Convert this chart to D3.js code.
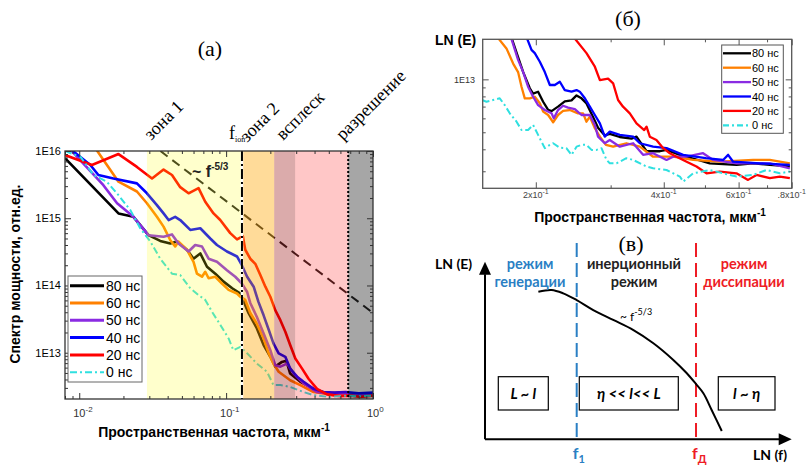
<!DOCTYPE html>
<html>
<head>
<meta charset="utf-8">
<script src="https://cdn.jsdelivr.net/npm/d3@7"></script>
<style>
  body { margin: 0; background: #fff; }
  text { font-family: "Liberation Sans", Arial, sans-serif; }
</style>
</head>
<body>
<div id="chart"></div>
<script>
// ---- data ----
const times = ["80 нс", "60 нс", "50 нс", "40 нс", "20 нс", "0 нс"];
const colors = ["#000000", "#ff8000", "#8a2be2", "#0000ff", "#ff0000", "#2fe0e0"];

// panel (a): [f, E]
const specA80 = [[0.008,7.8e15],[0.0185,1.18e15],[0.0234,1.05e15],[0.0296,5.6e14],[0.0356,4.6e14],[0.0417,4.2e14],[0.0463,4.5e14],[0.0541,3.4e14],[0.060,2.5e14],[0.0667,3.0e14],[0.0741,1.9e14],[0.0844,1.5e14],[0.0961,1.14e14],[0.110,9.1e13],[0.125,7.6e13],[0.142,3.9e13],[0.162,2.3e13],[0.180,1.3e13],[0.200,8.7e12],[0.216,6.2e12],[0.240,7.3e12],[0.257,7.6e12],[0.273,4.9e12],[0.320,3.7e12],[0.394,2.9e12],[0.45,2.6e12],[0.52,2.5e12],[0.6,2.55e12],[0.7,2.4e12],[0.82,2.45e12],[1.0,2.4e12]];
const specA60 = [[0.0128,1.12e16],[0.0185,3.5e15],[0.0247,2.5e15],[0.0289,1.67e15],[0.0338,1.05e15],[0.0375,7.5e14],[0.0417,4.7e14],[0.045,3.8e14],[0.0474,4.5e14],[0.0541,3.4e14],[0.060,2.25e14],[0.0633,1.5e14],[0.0685,1.35e14],[0.0721,1.6e14],[0.076,1.28e14],[0.0844,1.35e14],[0.0937,1.07e14],[0.104,8.6e13],[0.1186,7.6e13],[0.125,6.8e13],[0.135,6.1e13],[0.146,3.9e13],[0.162,2.7e13],[0.180,1.63e13],[0.195,9.8e12],[0.210,6.9e12],[0.228,5.2e12],[0.273,3.9e12],[0.320,3.3e12],[0.394,2.6e12],[0.539,2.35e12],[0.65,2.45e12],[0.8,2.5e12],[1.0,2.4e12]];
const specA50 = [[0.0089,1.0e16],[0.0146,3.1e15],[0.0181,1.67e15],[0.0234,1.05e15],[0.026,7.9e14],[0.0296,5.6e14],[0.0375,5.3e14],[0.0428,5.75e14],[0.0474,4.2e14],[0.0555,3.2e14],[0.0616,4.0e14],[0.0685,3.8e14],[0.076,2.5e14],[0.0866,2.25e14],[0.1013,1.69e14],[0.1154,1.35e14],[0.128,1.07e14],[0.139,8.0e13],[0.146,5.5e13],[0.162,3.4e13],[0.180,1.94e13],[0.200,1.09e13],[0.216,6.5e12],[0.234,6.2e12],[0.260,6.9e12],[0.288,4.9e12],[0.337,3.5e12],[0.416,2.6e12],[0.5,2.45e12],[0.65,2.5e12],[0.8,2.35e12],[1.0,2.4e12]];
const specA40 = [[0.0088,1.05e16],[0.0119,6.2e15],[0.0135,4.4e15],[0.0171,3.9e15],[0.0247,3.3e15],[0.0289,2.35e15],[0.0338,1.57e15],[0.0375,1.18e15],[0.0406,9.4e14],[0.045,1.05e15],[0.0487,9.4e14],[0.057,6.7e14],[0.0667,7.1e14],[0.078,5.0e14],[0.0866,4.0e14],[0.1013,3.2e14],[0.1186,2.7e14],[0.128,2.0e14],[0.139,1.35e14],[0.154,9.6e13],[0.166,5.7e13],[0.180,3.6e13],[0.195,2.2e13],[0.210,1.38e13],[0.228,9.8e12],[0.253,8.7e12],[0.273,5.8e12],[0.304,4.4e12],[0.337,3.7e12],[0.394,2.9e12],[0.461,2.6e12],[0.55,2.55e12],[0.65,2.6e12],[0.8,2.5e12],[1.0,2.55e12]];
const specA20 = [[0.008,8.7e15],[0.0122,6.2e15],[0.0185,9.0e15],[0.0247,5.8e15],[0.0313,3.9e15],[0.0375,5.3e15],[0.0428,4.4e15],[0.0487,2.9e15],[0.0555,2.35e15],[0.0649,2.8e15],[0.0721,1.76e15],[0.0821,1.18e15],[0.0912,9.4e14],[0.1067,6.0e14],[0.1186,4.85e14],[0.130,5.4e14],[0.135,3.4e14],[0.146,2.5e14],[0.158,2.1e14],[0.171,1.43e14],[0.185,9.6e13],[0.200,6.8e13],[0.216,4.3e13],[0.234,3.05e13],[0.253,2.05e13],[0.273,1.3e13],[0.296,8.2e12],[0.329,5.8e12],[0.364,4.1e12],[0.416,2.9e12],[0.486,2.4e12],[0.599,2.26e12],[0.7,2.3e12],[0.82,2.2e12],[1.0,2.3e12]];
const specA0 = [[0.008,1.0e16],[0.0102,8.2e15],[0.0125,4.4e15],[0.0154,3.5e15],[0.0185,2.2e15],[0.0223,1.32e15],[0.026,7.1e14],[0.0305,4.5e14],[0.0356,2.5e14],[0.0428,1.5e14],[0.0487,1.43e14],[0.057,9.1e13],[0.0649,7.2e13],[0.0721,6.1e13],[0.080,4.1e13],[0.0912,2.6e13],[0.104,1.63e13],[0.112,1.09e13],[0.125,1.22e13],[0.139,9.8e12],[0.162,6.9e12],[0.190,5.2e12],[0.210,3.3e12],[0.234,3.3e12],[0.273,3.1e12],[0.337,2.6e12],[0.394,2.34e12],[0.5,2.2e12],[0.65,2.3e12],[0.8,2.25e12],[1.0,2.3e12]];

// reference slope ~f^-5/3 (end points)
const slopeRef = [[0.0357, 1e16], [1.0, 3.9e13]];
// zone boundaries (f)
const zoneEdges = [0.0289, 0.1282, 0.2125, 0.295, 0.678, 1.0];
const zoneNames = ["зона 1", "зона 2", "всплеск", "разрешение"];

const aYTicks = [1e13, 1e14, 1e15, 1e16];
const aYLabels = ["1E13", "1E14", "1E15", "1E16"];
const aXTicks = [0.01, 0.1, 1];
const aXExp = ["-2", "-1", "0"];

// panel (b): [f, E]
const specB80 = [[0.175,1.75e13],[0.1817,1.34e13],[0.1868,1.10e13],[0.1936,8.9e12],[0.1971,8.3e12],[0.2025,8.5e12],[0.2081,7.46e12],[0.2138,6.7e12],[0.2178,6.6e12],[0.2256,7.0e12],[0.234,7.5e12],[0.2427,7.6e12],[0.2494,8.1e12],[0.2562,7.8e12],[0.2632,7.3e12],[0.2727,6.1e12],[0.2802,5.3e12],[0.2906,4.8e12],[0.2986,4.9e12],[0.3152,4.7e12],[0.3359,4.6e12],[0.3451,4.72e12],[0.3644,3.9e12],[0.3917,3.9e12],[0.4061,3.97e12],[0.4365,3.72e12],[0.4776,3.5e12],[0.5133,3.33e12],[0.5932,3.26e12],[0.6492,3.33e12],[0.7106,3.26e12],[0.792,3.2e12]];
const specB60 = [[0.163,1.72e13],[0.1706,1.50e13],[0.1769,1.23e13],[0.1817,1.10e13],[0.1851,9.08e12],[0.1884,7.8e12],[0.1936,7.8e12],[0.1989,7.96e12],[0.2044,7.31e12],[0.2081,6.55e12],[0.2138,6.27e12],[0.2197,5.7e12],[0.2256,6.27e12],[0.2319,6.61e12],[0.2404,6.69e12],[0.2515,6.41e12],[0.2584,6.41e12],[0.2632,5.74e12],[0.268,6.13e12],[0.2754,5.27e12],[0.283,4.72e12],[0.2924,4.24e12],[0.3041,4.14e12],[0.3267,4.33e12],[0.3514,4.14e12],[0.3776,3.63e12],[0.4208,3.63e12],[0.4689,3.48e12],[0.5419,3.4e12],[0.6492,3.48e12],[0.7106,3.48e12],[0.792,3.33e12]];
const specB50 = [[0.175,1.72e13],[0.1817,1.29e13],[0.1868,1.10e13],[0.1918,9.08e12],[0.1971,7.96e12],[0.2025,7.14e12],[0.21,6.69e12],[0.2178,6.41e12],[0.2205,6.0e12],[0.2256,6.69e12],[0.2319,7.08e12],[0.2382,6.9e12],[0.2471,6.78e12],[0.2562,6.27e12],[0.268,6.27e12],[0.2754,5.5e12],[0.2802,4.72e12],[0.2906,4.33e12],[0.2986,4.52e12],[0.3152,4.14e12],[0.3389,4.33e12],[0.3576,3.72e12],[0.3776,3.8e12],[0.4061,3.48e12],[0.4208,3.63e12],[0.4527,3.63e12],[0.495,3.8e12],[0.5227,3.48e12],[0.5932,3.33e12],[0.7106,3.33e12],[0.792,3.12e12]];
const specB40 = [[0.19,1.75e13],[0.1954,1.47e13],[0.1989,1.41e13],[0.2044,1.26e13],[0.21,1.10e13],[0.2158,9.29e12],[0.2217,9.29e12],[0.2278,9.69e12],[0.234,8.69e12],[0.2427,8.51e12],[0.2494,8.69e12],[0.2538,8.51e12],[0.2609,7.8e12],[0.268,6.99e12],[0.2754,6.27e12],[0.283,5.62e12],[0.2906,4.72e12],[0.2986,5.04e12],[0.3152,4.83e12],[0.3389,4.72e12],[0.3514,4.33e12],[0.3776,4.14e12],[0.4061,4.06e12],[0.4444,3.72e12],[0.5024,3.56e12],[0.5517,3.48e12],[0.5669,3.72e12],[0.5825,3.4e12],[0.6731,3.33e12],[0.792,3.26e12]];
const specB20 = [[0.245,1.75e13],[0.2632,1.41e13],[0.2754,1.18e13],[0.283,9.91e12],[0.2959,1.01e13],[0.3041,9.49e12],[0.3123,7.63e12],[0.3208,6.99e12],[0.3328,6.41e12],[0.3451,5.62e12],[0.3598,5.15e12],[0.3644,5.38e12],[0.3709,4.72e12],[0.3845,4.52e12],[0.3988,4.06e12],[0.4134,3.8e12],[0.4287,3.63e12],[0.4527,3.4e12],[0.4776,3.19e12],[0.5043,2.92e12],[0.5419,2.99e12],[0.5932,2.92e12],[0.6315,2.68e12],[0.6612,2.86e12],[0.7106,2.74e12],[0.7501,2.8e12],[0.792,2.74e12]];
const specB0 = [[0.150,7.6e12],[0.1531,7.46e12],[0.1587,7.63e12],[0.1645,7.8e12],[0.169,7.14e12],[0.1737,6.41e12],[0.1802,5.74e12],[0.1851,5.15e12],[0.1918,5.15e12],[0.1971,5.5e12],[0.2025,4.83e12],[0.21,4.06e12],[0.2158,4.24e12],[0.2197,4.33e12],[0.2278,4.08e12],[0.236,4.06e12],[0.2427,3.72e12],[0.2494,4.14e12],[0.2562,4.24e12],[0.2632,4.24e12],[0.2705,3.97e12],[0.2779,3.97e12],[0.2855,4.06e12],[0.2934,3.48e12],[0.2986,3.33e12],[0.3096,3.33e12],[0.3267,3.56e12],[0.3389,3.48e12],[0.3644,3.19e12],[0.3776,3.12e12],[0.4061,3.05e12],[0.4365,2.8e12],[0.4444,2.62e12],[0.4689,2.92e12],[0.5133,3.05e12],[0.5932,2.8e12],[0.6492,2.86e12],[0.6979,3.05e12],[0.7501,2.92e12],[0.792,2.99e12]];

const bYTicks = [1e13];
const bYLabels = ["1E13"];
const bXTicks = [0.2, 0.4, 0.6, 0.8];
const bXMant = ["2x10", "4x10", "6x10", ".8x10"];

// panel (в): schematic, arbitrary units 0..100
const schemeCurve = [[17.4,83.1],[21.7,84.1],[25.5,82.2],[29.9,78.4],[35.3,72.8],[41.8,67.2],[48.4,61.5],[54.9,54.1],[61.4,44.7],[65.8,37.2],[68.8,31.1],[71.2,25.9],[73.9,16.5],[77.2,4.7]];
const f1Pos = 29.9, fdPos = 68.8;

const specA = [specA80, specA60, specA50, specA40, specA20, specA0];
const specB = [specB80, specB60, specB50, specB40, specB20, specB0];

// ---- helpers ----
function logTicks(lo, hi) {
    const t = [];
    for (let e = Math.floor(Math.log10(lo)); e <= Math.ceil(Math.log10(hi)); e++) {
        for (let m = 1; m < 10; m++) {
            const v = m * Math.pow(10, e);
            if (v >= lo * 0.999 && v <= hi * 1.001) t.push(v);
        }
    }
    return t;
}
const isMajor = v => Math.abs(Math.log10(v) - Math.round(Math.log10(v))) < 1e-6;

function frame(g, x, y, majorY, majorX, minorX, stroke) {
    const [x0, x1] = x.range(), [y0, y1] = y.range();
    const w = x1 - x0, h = y0 - y1;
    const yMin = logTicks(...y.domain()).filter(v => !majorY.includes(v));
    const sides = [
        [d3.axisLeft(y), `translate(${x0},0)`, majorY, yMin],
        [d3.axisRight(y), `translate(${x1},0)`, majorY, yMin],
        [d3.axisBottom(x), `translate(0,${y0})`, majorX, minorX],
        [d3.axisTop(x), `translate(0,${y1})`, majorX, minorX]
    ];
    sides.forEach(([ax, tr, maj, min]) => {
        [[maj, 6], [min, 3]].forEach(([vals, len]) => {
            g.append("g").attr("transform", tr)
                .call(ax.tickValues(vals).tickSize(-len).tickFormat("").tickSizeOuter(0))
                .call(s => s.select(".domain").remove())
                .call(s => s.selectAll("line").attr("stroke", stroke).attr("stroke-width", 1));
        });
    });
    g.append("rect").attr("x", x0).attr("y", y1).attr("width", w).attr("height", h)
        .attr("fill", "none").attr("stroke", stroke).attr("stroke-width", 1.3);
}

const svg = d3.select("#chart").append("svg")
    .attr("width", 810).attr("height", 468)
    .style("background", "#fff");

const defs = svg.append("defs");

// ================= panel (а) =================
const xA = d3.scaleLog().domain([0.008, 1.0]).range([65, 373]);
const yA = d3.scaleLog().domain([2.05e12, 1e16]).range([399, 151]);

defs.append("clipPath").attr("id", "clipA").append("rect")
    .attr("x", 65).attr("y", 151).attr("width", 308).attr("height", 248);

const gA = svg.append("g");
const plotA = gA.append("g").attr("clip-path", "url(#clipA)");

const lineA = d3.line().x(d => xA(d[0])).y(d => yA(d[1]));

// dashed slope line (under the overlays)
plotA.append("path").datum(slopeRef).attr("d", lineA)
    .attr("fill", "none").attr("stroke", "#222").attr("stroke-width", 2)
    .attr("stroke-dasharray", "9,6");

specA.forEach((s, i) => {
    plotA.append("path").datum(s).attr("d", lineA)
        .attr("fill", "none").attr("stroke", colors[i])
        .attr("stroke-width", i === 5 ? 2 : 2.6)
        .attr("stroke-linejoin", "round")
        .attr("stroke-dasharray", i === 5 ? "7,3,2,3" : null);
});

// translucent zone overlays
const overlays = [
    [zoneEdges[0], zoneEdges[1], "#ffff00", 0.2],
    [zoneEdges[1], zoneEdges[2], "#ffa500", 0.4],
    [zoneEdges[2], zoneEdges[4], "#ff0000", 0.22],
    [zoneEdges[2], zoneEdges[3], "#000000", 0.14],
    [zoneEdges[4], zoneEdges[5], "#000000", 0.35]
];
overlays.forEach(([a, b, c, o]) => {
    plotA.append("rect").attr("x", xA(a)).attr("y", 151)
        .attr("width", xA(b) - xA(a)).attr("height", 248)
        .attr("fill", c).attr("fill-opacity", o);
});

// f_ion dash-dot and resolution dotted line
plotA.append("line").attr("x1", xA(zoneEdges[1])).attr("x2", xA(zoneEdges[1]))
    .attr("y1", 151).attr("y2", 399).attr("stroke", "#fff").attr("stroke-width", 2.5);
plotA.append("line").attr("x1", xA(zoneEdges[1])).attr("x2", xA(zoneEdges[1]))
    .attr("y1", 151).attr("y2", 399).attr("stroke", "#000").attr("stroke-width", 2)
    .attr("stroke-dasharray", "10,3,2,3");
plotA.append("line").attr("x1", xA(zoneEdges[4])).attr("x2", xA(zoneEdges[4]))
    .attr("y1", 151).attr("y2", 399).attr("stroke", "#000").attr("stroke-width", 2)
    .attr("stroke-dasharray", "2,2");

frame(gA, xA, yA, aYTicks, aXTicks,
    logTicks(0.008, 1).filter(v => !isMajor(v)), "#333");

// tick labels
gA.selectAll(".ya").data(aYTicks).join("text")
    .attr("x", 61).attr("y", d => yA(d) + 4)
    .attr("text-anchor", "end").style("font-size", "11px").text((d, i) => aYLabels[i]);
const xl = gA.selectAll(".xa").data(aXTicks).join("text")
    .attr("x", d => xA(d) - 6).attr("y", 417)
    .style("font-size", "11px").style("fill", "#333");
xl.append("tspan").text("10");
xl.append("tspan").attr("dy", -5).style("font-size", "8px").text((d, i) => aXExp[i]);

// "~ f^-5/3"
const slopeLbl = gA.append("text").attr("x", 192).attr("y", 177)
    .style("font-size", "16px").style("font-weight", "bold").style("fill", "#222");
slopeLbl.append("tspan").text("~ f");
slopeLbl.append("tspan").attr("dy", -7).style("font-size", "10px").text("-5/3");

// legend (а)
const legA = gA.append("g");
legA.append("rect").attr("x", 68).attr("y", 276).attr("width", 74).attr("height", 106)
    .attr("fill", "#fff").attr("stroke", "#666").attr("stroke-width", 1);
times.forEach((t, i) => {
    const yy = 285.7 + i * 17.3;
    legA.append("line").attr("x1", 70).attr("x2", 104).attr("y1", yy).attr("y2", yy)
        .attr("stroke", colors[i]).attr("stroke-width", i === 5 ? 2 : 3)
        .attr("stroke-dasharray", i === 5 ? "7,3,2,3" : null);
    legA.append("text").attr("x", 106).attr("y", yy + 5)
        .style("font-size", "14px").text(t);
});

// zone names, rotated
const serif = "'Liberation Serif', 'DejaVu Serif', serif";
const zoneLabelPos = [[151, 141], [247, 143], [283, 141], [343, 141]];
zoneNames.forEach((n, i) => {
    gA.append("text")
        .attr("transform", `translate(${zoneLabelPos[i][0]},${zoneLabelPos[i][1]}) rotate(-45)`)
        .style("font-family", serif).style("font-size", "18px").text(n);
});
const fion = gA.append("text").attr("x", 229).attr("y", 139)
    .style("font-family", serif).style("font-size", "18px");
fion.append("tspan").text("f");
fion.append("tspan").attr("dy", 3).style("font-size", "8px").text("ion");

gA.append("text").attr("x", 210).attr("y", 56).attr("text-anchor", "middle")
    .style("font-family", serif).style("font-size", "22px").text("(а)");

const xtA = gA.append("text").attr("x", 214).attr("y", 437).attr("text-anchor", "middle")
    .style("font-size", "14px").style("font-weight", "bold");
xtA.append("tspan").text("Пространственная частота, мкм");
xtA.append("tspan").attr("dy", -6).style("font-size", "10px").text("-1");

gA.append("text").attr("transform", "translate(20,274) rotate(-90)")
    .attr("text-anchor", "middle").style("font-size", "14px").style("font-weight", "bold")
    .text("Спектр мощности, отн.ед.");

// ================= panel (б) =================
const xB = d3.scaleLog().domain([0.15, 0.8]).range([482.7, 791.7]);
const yB = d3.scaleLog().domain([2.4e12, 1.69e13]).range([188.3, 39.3]);

defs.append("clipPath").attr("id", "clipB").append("rect")
    .attr("x", 482.7).attr("y", 39.3).attr("width", 309).attr("height", 149);

const gB = svg.append("g");
const plotB = gB.append("g").attr("clip-path", "url(#clipB)");
const lineB = d3.line().x(d => xB(d[0])).y(d => yB(d[1]));

specB.forEach((s, i) => {
    plotB.append("path").datum(s).attr("d", lineB)
        .attr("fill", "none").attr("stroke", colors[i])
        .attr("stroke-width", i === 5 ? 2 : 2.3)
        .attr("stroke-linejoin", "round")
        .attr("stroke-dasharray", i === 5 ? "7,3,2,3" : null);
});

frame(gB, xB, yB, bYTicks, bXTicks, [0.3, 0.5, 0.7], "#555");

gB.selectAll(".yb").data(bYTicks).join("text")
    .attr("x", 475).attr("y", d => yB(d) + 3.5).attr("text-anchor", "end")
    .style("font-size", "9px").style("fill", "#333").text((d, i) => bYLabels[i]);
const xlb = gB.selectAll(".xb").data(bXTicks).join("text")
    .attr("x", d => xB(d)).attr("y", 198).attr("text-anchor", "middle")
    .style("font-size", "9px").style("fill", "#444");
xlb.append("tspan").text((d, i) => bXMant[i]);
xlb.append("tspan").attr("dy", -4).style("font-size", "7px").text("-1");

// legend (б)
const legB = gB.append("g");
legB.append("rect").attr("x", 721.7).attr("y", 45).attr("width", 61.6).attr("height", 88.3)
    .attr("fill", "#fff").attr("stroke", "#555").attr("stroke-width", 1);
times.forEach((t, i) => {
    const yy = 53.3 + i * 14.4;
    legB.append("line").attr("x1", 723).attr("x2", 751).attr("y1", yy).attr("y2", yy)
        .attr("stroke", colors[i]).attr("stroke-width", 2.3)
        .attr("stroke-dasharray", i === 5 ? "6,3,2,3" : null);
    legB.append("text").attr("x", 752).attr("y", yy + 4)
        .style("font-size", "11px").text(t);
});

gB.append("text").attr("x", 435).attr("y", 45)
    .style("font-size", "14px").style("font-weight", "bold").text("LN (E)");
gB.append("text").attr("x", 628).attr("y", 26).attr("text-anchor", "middle")
    .style("font-family", serif).style("font-size", "22px").text("(б)");
const xtB = gB.append("text").attr("x", 650).attr("y", 222).attr("text-anchor", "middle")
    .style("font-size", "14px").style("font-weight", "bold");
xtB.append("tspan").text("Пространственная частота, мкм");
xtB.append("tspan").attr("dy", -6).style("font-size", "10px").text("-1");

// ================= panel (в) =================
const xC = d3.scaleLinear().domain([0, 100]).range([485, 791.7]);
const yC = d3.scaleLinear().domain([0, 100]).range([439.3, 261.7]);
const gC = svg.append("g");
const sans2 = "Lato, 'Open Sans', sans-serif";

gC.append("text").attr("x", 631).attr("y", 251).attr("text-anchor", "middle")
    .style("font-family", serif).style("font-size", "22px").text("(в)");

// axes with arrows
gC.append("line").attr("x1", xC(0)).attr("y1", yC(0)).attr("x2", xC(0)).attr("y2", yC(0) - 165)
    .attr("stroke", "#000").attr("stroke-width", 2);
gC.append("path")
    .attr("d", `M${xC(0)},${yC(100)} l-6,13 l12,0 Z`).attr("fill", "#000");
gC.append("line").attr("x1", xC(0)).attr("y1", yC(0)).attr("x2", xC(100) - 10).attr("y2", yC(0))
    .attr("stroke", "#000").attr("stroke-width", 2);
gC.append("path")
    .attr("d", `M${xC(100)},${yC(0)} l-13,-6 l0,12 Z`).attr("fill", "#000");

// regime dividers
[[f1Pos, "#2a7fc4"], [fdPos, "#ee1c25"]].forEach(([p, c]) => {
    gC.append("line").attr("x1", xC(p)).attr("x2", xC(p)).attr("y1", 243).attr("y2", yC(0))
        .attr("stroke", c).attr("stroke-width", 2).attr("stroke-dasharray", "14,6");
});

// spectrum curve
gC.append("path").datum(schemeCurve)
    .attr("d", d3.line().x(d => xC(d[0])).y(d => yC(d[1])).curve(d3.curveCatmullRom))
    .attr("fill", "none").attr("stroke", "#000").attr("stroke-width", 2);

const sl2 = gC.append("text").attr("x", 620).attr("y", 321)
    .style("font-family", sans2).style("font-size", "12px");
sl2.append("tspan").text("~ f");
sl2.append("tspan").attr("dy", -6).style("font-size", "9px").text("-5/3");

// regime titles
const regimes = [
    [530, "#2a7fc4", ["режим", "генерации"]],
    [634, "#222", ["инерционный", "режим"]],
    [744, "#ee1c25", ["режим", "диссипации"]]
];
regimes.forEach(([cx, c, lines]) => {
    lines.forEach((l, j) => {
        gC.append("text").attr("x", cx).attr("y", 269 + j * 18).attr("text-anchor", "middle")
            .style("font-family", sans2).style("font-weight", "bold").style("font-size", "14.5px")
            .style("fill", c).text(l);
    });
});

// scale boxes
const boxes = [
    [498.3, 50, "L ~ l"],
    [579.3, 99, "η << l<< L"],
    [718.3, 56.7, "l ~ η"]
];
boxes.forEach(([bx, bw, t]) => {
    gC.append("rect").attr("x", bx).attr("y", 376.7).attr("width", bw).attr("height", 33.3)
        .attr("fill", "#fff").attr("stroke", "#000").attr("stroke-width", 1.2);
    gC.append("text").attr("x", bx + bw / 2).attr("y", 398.5).attr("text-anchor", "middle")
        .style("font-family", sans2).style("font-style", "italic").style("font-weight", "bold")
        .style("font-size", "15px").text(t);
});

gC.append("text").attr("x", 435).attr("y", 269)
    .style("font-family", sans2).style("font-size", "14px").style("font-weight", "bold").text("LN (E)");
gC.append("text").attr("x", 753).attr("y", 460)
    .style("font-family", sans2).style("font-size", "14px").style("font-weight", "bold").text("LN (f)");

[[f1Pos, "#2a7fc4", "1"], [fdPos, "#ee1c25", "Д"]].forEach(([p, c, s]) => {
    const t = gC.append("text").attr("x", xC(p) - 4).attr("y", 459)
        .style("font-family", sans2).style("font-size", "16px").style("font-weight", "bold")
        .style("fill", c);
    t.append("tspan").text("f");
    t.append("tspan").attr("dy", 4).style("font-size", "11px").text(s);
});
</script>
</body>
</html>
